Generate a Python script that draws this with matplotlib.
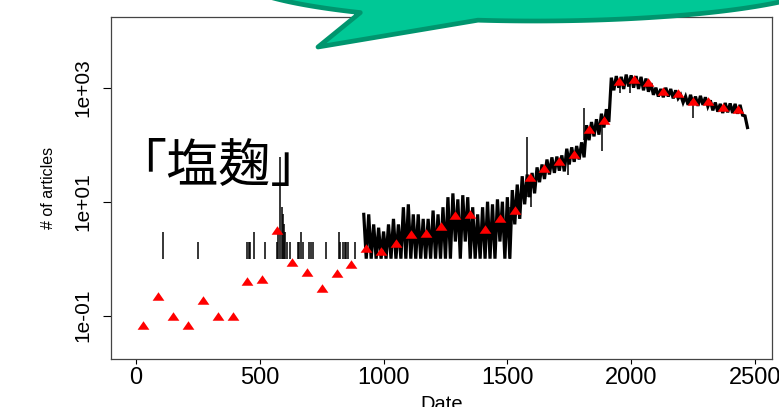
import numpy as np
import matplotlib.pyplot as plt
from matplotlib.patches import Polygon
from matplotlib.ticker import NullLocator

plt.rcParams['font.family'] = ['Liberation Sans', 'DejaVu Sans']

# two-month means of the daily article counts (red triangles)
mean_day = [30, 90, 150, 210, 270, 330, 390, 450, 510, 570,
            630, 690, 750, 810, 870, 930, 990, 1050, 1110, 1170,
            1230, 1290, 1350, 1410, 1470, 1530, 1590, 1650, 1710, 1770,
            1830, 1890, 1950, 2010, 2070, 2130, 2190, 2250, 2310, 2370, 2430]
mean_count = [0.068, 0.22, 0.10, 0.068, 0.186, 0.10, 0.10, 0.41, 0.44, 3.2,
              0.89, 0.575, 0.31, 0.56, 0.81, 1.51, 1.34, 1.86, 2.75, 2.86,
              3.75, 5.85, 6.17, 3.28, 5.18, 7.13, 26.8, 38.9, 52.5, 68.7,
              186, 275, 1303, 1413, 1274, 865, 817, 575, 585, 457, 427]

# single days with articles, plus the odd spike / dip later on
spike_day = [108, 252, 448, 455, 460, 477, 521, 568, 575, 583, 588, 592,
             597, 603, 608, 622, 654, 660, 668, 675, 699, 706, 716, 767,
             820, 826, 836, 843, 850, 856, 884,
             1510, 1578, 1595, 1745, 1809, 1884, 1955, 1995, 2250]
spike_lo = [1, 1, 1, 1, 1, 1, 1, 1, 1, 1, 1, 1,
            1, 1, 1, 1, 1, 1, 1, 1, 1, 1, 1, 1,
            1, 1, 1, 1, 1, 1, 1,
            1, 12, 8, 30, 120, 79, 800, 800, 300]
spike_hi = [3, 2, 2, 2, 2, 3, 2, 2, 3, 60, 8, 6,
            4, 3, 2, 2, 2, 2, 3, 2, 2, 2, 2, 2,
            3, 2, 2, 2, 2, 2, 2,
            8, 138, 25, 60, 435, 250, 1300, 1300, 600]

# daily counts once they are dense: high / low per 20-day step
band_day = list(range(920, 2461, 20))
band_hi = [6, 6, 4, 3.5, 3, 4, 5, 4, 8, 9,
           6, 6, 5, 5, 7, 6, 8, 12, 14, 11,
           13, 12, 8, 6, 8, 10, 9, 11, 10, 12,
           16, 20, 28, 30, 32, 40, 45, 55, 60, 62,
           65, 85, 90, 95, 110, 220, 250, 280, 350, 420,
           1500, 1600, 1550, 1700, 1650, 1600, 1550, 1450, 1200, 1000,
           950, 1000, 950, 900, 750, 700, 750, 700, 720, 680,
           600, 550, 520, 540, 530, 520, 500, 320]
band_lo = [1, 1, 1, 1, 1, 1, 1, 1, 1, 1,
           1, 1, 1, 1, 1, 1, 1, 1, 2, 1,
           2, 1, 1, 1, 1, 1, 1, 2, 1, 1,
           4, 5, 9, 12, 14, 22, 25, 30, 32, 35,
           34, 45, 50, 55, 60, 120, 140, 150, 200, 250,
           900, 1000, 950, 1050, 1000, 950, 900, 850, 750, 700,
           680, 700, 650, 650, 550, 500, 520, 480, 500, 470,
           400, 380, 360, 370, 360, 350, 330, 200]

fig = plt.figure(figsize=(7.79, 4.07), dpi=100)
ax = fig.add_axes([0.1425, 0.1172, 0.8485, 0.8418])

# daily series
zx = np.column_stack([band_day, np.array(band_day) + 10]).ravel()
zy = np.column_stack([band_hi, band_lo]).ravel()
ax.plot(zx, zy, color='black', lw=2.3, solid_joinstyle='miter')
ax.vlines(spike_day, spike_lo, spike_hi, color='black', lw=1.1)

# monthly means
tri = [(-1, -0.72), (1, -0.72), (0, 0.72), (-1, -0.72)]
ax.plot(mean_day, mean_count, linestyle='none', marker=tri,
        markersize=8.5, color='red', markeredgewidth=0)

ax.set_yscale('log')
ax.set_xlim(-101, 2569)
ax.set_ylim(10 ** -1.765, 10 ** 4.246)
ax.set_xticks([0, 500, 1000, 1500, 2000, 2500])
ax.set_yticks([0.1, 10, 1000], labels=['1e-01', '1e+01', '1e+03'],
              rotation=90, va='center')
ax.yaxis.set_minor_locator(NullLocator())
ax.tick_params(axis='x', length=3.4, width=0.8, labelsize=17, pad=2)
ax.tick_params(axis='y', length=5.5, width=0.8, labelsize=15, pad=8)
for s in ax.spines.values():
    s.set_color('#444444')
    s.set_linewidth(0.9)

ax.set_xlabel('Date', fontsize=14.5)
ax.xaxis.set_label_coords(0.5, -0.104)
ax.set_ylabel('# of articles', fontsize=11.5, va='center')
ax.yaxis.set_label_coords(-0.094, 0.5)

fig.text(218 / 779, (407 - 182) / 407, '「塩麹」', fontsize=37.5,
         family=['Noto Sans CJK JP', 'DejaVu Sans'], ha='center', va='baseline')

# speech bubble over the top edge
ov = fig.add_axes([0, 0, 1, 1])
ov.set_xlim(0, 779)
ov.set_ylim(407, 0)
ov.axis('off')
t = np.linspace(0, 2 * np.pi, 600)
ex = 535 + 300 * np.cos(t)
ey = -24 + 45 * np.sin(t)
cut = np.where((ex > 362) & (ex < 476) & (ey > 0))[0]
verts = np.vstack([np.column_stack([ex[:cut[0]], ey[:cut[0]]]),
                   [[318, 47]],
                   np.column_stack([ex[cut[-1] + 1:], ey[cut[-1] + 1:]])])
ov.add_patch(Polygon(verts, closed=True, facecolor='#00C896',
                     edgecolor='#00956E', lw=3.4, joinstyle='round'))

fig.savefig('out.png', dpi=100)
